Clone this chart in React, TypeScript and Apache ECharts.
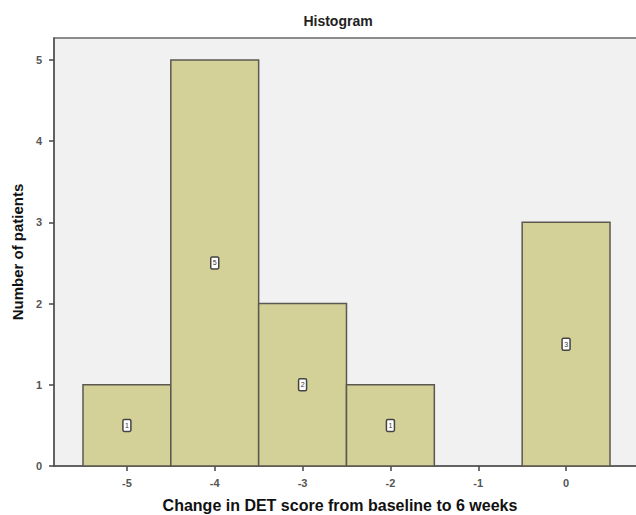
import React, { useEffect, useRef } from "react";
import * as echarts from "echarts";

const binCenters = [-5, -4, -3, -2, -1, 0];
const counts = [1, 5, 2, 1, 0, 3];
const xTickValues = [-5, -4, -3, -2, -1, 0];
const yTickValues = [0, 1, 2, 3, 4, 5];
const titleText = "Histogram";
const xName = "Change in DET score from baseline to 6 weeks";
const yName = "Number of patients";

export default function App() {
  const ref = useRef<HTMLDivElement>(null);
  useEffect(() => {
    if (!ref.current) return;
    const chart = echarts.init(ref.current, null, { renderer: "svg" });
    const data = binCenters
      .map((c, i) => [c - 0.5, c + 0.5, counts[i]])
      .filter((d) => d[2] > 0);
    chart.setOption({
      animation: false,
      backgroundColor: "#ffffff",
      title: {
        text: titleText,
        left: 333,
        textAlign: "center",
        top: 9,
        textStyle: { fontFamily: "Liberation Sans", fontSize: 14, fontWeight: "bold", color: "#222" },
      },
      grid: {
        left: 54,
        right: -8,
        top: 38,
        bottom: 49,
        containLabel: false,
        outerBoundsMode: "none",
        show: true,
        backgroundColor: "#f1f1f1",
        borderColor: "#6a6a6a",
        borderWidth: 1.5,
      },
      xAxis: {
        type: "value",
        min: -5.83,
        max: 0.887,
        splitLine: { show: false },
        axisLine: { show: true, onZero: false, lineStyle: { color: "#555", width: 1.5 } },
        axisTick: { show: true, length: 5, customValues: xTickValues, lineStyle: { color: "#444", width: 1.5 } },
        axisLabel: {
          customValues: xTickValues,
          margin: 11,
          fontFamily: "Liberation Sans",
          fontSize: 11,
          fontWeight: "bold",
          color: "#555",
        },
        name: xName,
        nameLocation: "middle",
        nameGap: 31,
        nameTextStyle: {
          fontFamily: "Liberation Sans",
          fontSize: 16,
          fontWeight: "bold",
          color: "#111",
          padding: [0, 18, 0, 0],
        },
      },
      yAxis: {
        type: "value",
        min: 0,
        max: 5.27,
        splitLine: { show: false },
        axisLine: { show: true, onZero: false, lineStyle: { color: "#555", width: 1.5 } },
        axisTick: { show: true, length: 5, customValues: yTickValues, lineStyle: { color: "#444", width: 1.5 } },
        axisLabel: {
          customValues: yTickValues,
          margin: 12,
          fontFamily: "Liberation Sans",
          fontSize: 11,
          fontWeight: "bold",
          color: "#555",
        },
        name: yName,
        nameLocation: "middle",
        nameGap: 29,
        nameTextStyle: { fontFamily: "Liberation Sans", fontSize: 15, fontWeight: "bold", color: "#111" },
      },
      series: [
        {
          type: "custom",
          data,
          encode: { x: [0, 1], y: 2 },
          renderItem: (params: any, api: any) => {
            const x0 = api.value(0);
            const x1 = api.value(1);
            const v = api.value(2);
            const p0 = api.coord([x0, 0]);
            const p1 = api.coord([x1, v]);
            const cx = (p0[0] + p1[0]) / 2;
            const cy = (p0[1] + p1[1]) / 2;
            return {
              type: "group",
              children: [
                {
                  type: "rect",
                  shape: { x: p0[0], y: p1[1], width: p1[0] - p0[0], height: p0[1] - p1[1] },
                  style: { fill: "#d4d198", stroke: "#5a5850", lineWidth: 1.5 },
                },
                {
                  type: "rect",
                  shape: { x: cx - 4, y: cy - 6, width: 8, height: 12, r: 1.5 },
                  style: { fill: "#ffffff", stroke: "#444", lineWidth: 1.5 },
                },
                {
                  type: "text",
                  x: cx,
                  y: cy,
                  style: {
                    text: String(v),
                    fontFamily: "Liberation Sans",
                    fontSize: 7,
                    fill: "#333",
                    align: "center",
                    verticalAlign: "middle",
                  },
                },
              ],
            };
          },
        },
      ],
    });
    return () => chart.dispose();
  }, []);
  return (
    <div
      ref={ref}
      style={{ position: "fixed", left: 0, top: 0, width: 636, height: 515 }}
    />
  );
}
